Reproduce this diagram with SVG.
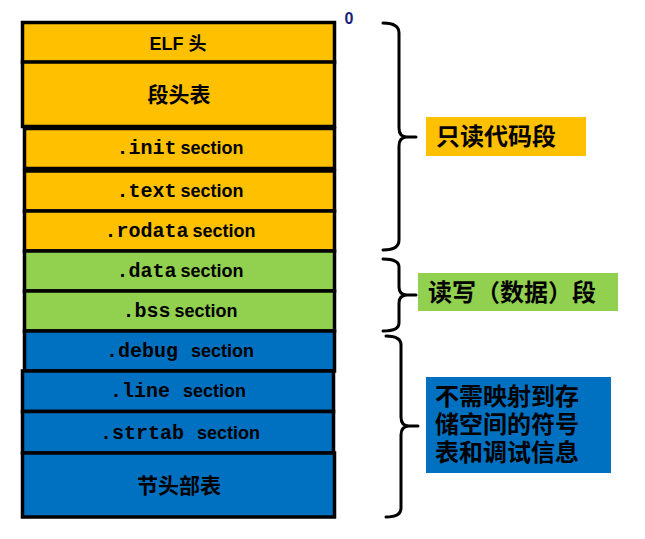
<svg xmlns="http://www.w3.org/2000/svg" width="645" height="539" viewBox="0 0 645 539">
<style>
.box{stroke:#000;stroke-width:3.5}
.o{fill:#FFC000}.g{fill:#92D050}.b{fill:#0070C0}
text{font-family:"Liberation Sans","Noto Sans CJK SC",sans-serif;font-weight:bold;fill:#000;text-anchor:middle}
.s{font-size:18px}
.m{font-family:"Liberation Mono","Courier New",monospace;font-size:20px}
.cj{font-size:21px}
.lab{font-size:24px;text-anchor:start}
.br{fill:none;stroke:#000;stroke-width:3;stroke-linejoin:round;stroke-linecap:round}
</style>
<g id="elf-header"><rect class="box o" x="22.5" y="22.5" width="312" height="40"/><text x="178" y="50" class="s">ELF 头</text></g>
<g id="segment-header-table"><rect class="box o" x="22.5" y="62" width="312" height="64.5"/><text x="179" y="102" class="cj">段头表</text></g>
<g id="init"><rect class="box o" x="24.5" y="128.5" width="310" height="40"/><text x="180" y="154" class="s"><tspan class="m">.init</tspan><tspan dx="4">section</tspan></text></g>
<g id="text"><rect class="box o" x="24.5" y="171" width="310" height="40"/><text x="180" y="197" class="s"><tspan class="m">.text</tspan><tspan dx="4">section</tspan></text></g>
<g id="rodata"><rect class="box o" x="24.5" y="211" width="310" height="40"/><text x="180" y="237" class="s"><tspan class="m">.rodata</tspan><tspan dx="4">section</tspan></text></g>
<g id="data"><rect class="box g" x="24.5" y="251" width="310" height="40"/><text x="180" y="277" class="s"><tspan class="m">.data</tspan><tspan dx="4">section</tspan></text></g>
<g id="bss"><rect class="box g" x="24.5" y="291" width="310" height="40"/><text x="180" y="317" class="s"><tspan class="m">.bss</tspan><tspan dx="4">section</tspan></text></g>
<g id="debug"><rect class="box b" x="24.5" y="331" width="310" height="40"/><text x="180" y="357" class="s"><tspan class="m">.debug</tspan><tspan dx="13">section</tspan></text></g>
<g id="line"><rect class="box b" x="22.5" y="371" width="311" height="40.5"/><text x="178" y="397" class="s"><tspan class="m">.line</tspan><tspan dx="13">section</tspan></text></g>
<g id="strtab"><rect class="box b" x="22.5" y="411.5" width="311" height="41.5"/><text x="180" y="439" class="s"><tspan class="m">.strtab</tspan><tspan dx="13">section</tspan></text></g>
<g id="section-header-table"><rect class="box b" x="22.5" y="453" width="312" height="64"/><text x="179" y="493" class="cj">节头部表</text></g>
<g id="zero"><text x="349" y="24" style="font-size:16px;fill:#1A237E">0</text></g>
<g id="connectors">
<path class="br" d="M383,23 Q399,23 399,33 V128 Q399,137 407,137 H416 M407,137 Q399,137 399,146 V240 Q399,250 383,250"/>
<path class="br" d="M383,259 Q399,259 399,267 V287 Q399,295 407,295 H416 M407,295 Q399,295 399,303 V323 Q399,331 383,331"/>
<path class="br" d="M386,336 Q401,336 401,345 V417 Q401,426 409,426 H418 M409,426 Q401,426 401,435 V508 Q401,517 386,517"/>
</g>
<g id="readonly-label"><rect class="o" x="426" y="117" width="160" height="39"/><text class="lab" x="436" y="145">只读代码段</text></g>
<g id="readwrite-label"><rect class="g" x="418" y="273" width="200" height="38"/><text class="lab" x="428" y="301">读写（数据）段</text></g>
<g id="debug-label"><rect class="b" x="426" y="377" width="185" height="96"/><text class="lab" x="435" y="405">不需映射到存</text><text class="lab" x="435" y="433">储空间的符号</text><text class="lab" x="435" y="461">表和调试信息</text></g>
</svg>
